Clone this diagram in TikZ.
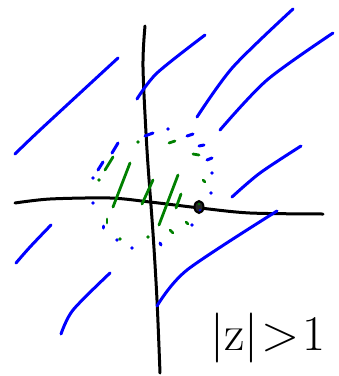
\documentclass[tikz,border=0pt]{standalone}
\usetikzlibrary{shapes.geometric}
\begin{document}
\begin{tikzpicture}[x=1pt,y=-1pt,
  axis/.style={line width=3pt,line cap=round,black},
  bl/.style={line width=3pt,line cap=round,draw=blue},
  gr/.style={line width=2.8pt,line cap=round,draw=green!50!black},
  bdot/.style={circle,fill=blue,inner sep=0pt,minimum size=3.8pt},
  gdot/.style={circle,fill=green!50!black,inner sep=0pt,minimum size=3.8pt}]
\useasboundingbox (0,0) rectangle (339,376);
% axes
\draw[axis] plot[smooth] coordinates {(145,26) (143,67) (147,150) (153,233) (157,300) (160,373)};
\draw[axis] plot[smooth] coordinates {(15,203) (50,199) (110,198) (150,202) (200,208) (250,213) (323,214)};
% blue region lines
\draw[bl] plot[smooth] coordinates {(15,154) (40,130) (118,58)};
\draw[bl] plot[smooth] coordinates {(137,99) (157,73) (205,35)};
\draw[bl] plot[smooth] coordinates {(197,117) (233,67) (293,9)};
\draw[bl] plot[smooth] coordinates {(220,130) (267,80) (333,33)};
\draw[bl] plot[smooth] coordinates {(232,197) (260,173) (301,146)};
\draw[bl] plot[smooth] coordinates {(16,263) (30,247) (51,225)};
\draw[bl] plot[smooth] coordinates {(61,334) (73,310) (110,273)};
\draw[bl] plot[smooth] coordinates {(157,306) (187,270) (277,211)};
% dashed circle: blue parts
\draw[bl] (145,136) -- (153,133);
\draw[bl] (187,136) -- (193,134);
\draw[bl] (199,146) -- (204,145);
\draw[bl] (207,160) -- (212,158);
\draw[bl] (112,153) -- (118,143);
\draw[bl] (98,170) -- (103,162);
\draw[bl] (103,228) -- (103,226);
\draw[bl] (160,243) -- (161,245);
\node[bdot] (b1) at (168,129) {};
\node[bdot] (b2) at (212,173) {};
\node[bdot] (b3) at (211,193) {};
\node[bdot] (b4) at (192,225) {};
\node[bdot] (b5) at (93,178) {};
\node[bdot] (b6) at (93,203) {};
\node[bdot] (b7) at (117,240) {};
\node[bdot] (b8) at (132,248) {};
% dashed circle: green parts
\draw[gr] (169,143) -- (175,141);
\draw[gr] (193,154) -- (199,155);
\draw[gr] (203,180) -- (205,182);
\draw[gr] (186,222) -- (188,224);
\draw[gr] (170,230) -- (173,233);
\draw[gr] (107,219) -- (107,223);
\node[gdot] (g1) at (138,142) {};
\node[gdot] (g2) at (148,237) {};
\node[gdot] (g3) at (120,239) {};
\node[gdot] (g4) at (99,180) {};
% green hatching
\draw[gr] (113,207) -- (130,163);
\draw[gr] (142,204) -- (153,180);
\draw[gr] (159,225) -- (178,175);
\draw[gr] (176,208) -- (181,194);
\draw[gr] (105,170) -- (113,157);
% point on axis
\node[ellipse,draw=black,line width=2pt,fill=black!85,inner sep=0pt,minimum width=9pt,minimum height=12pt] (p) at (199,207) {};
\node[gdot,minimum size=2.5pt] (pg) at (199,204) {};
\node[bdot,minimum size=2.5pt] (pb) at (200,210) {};
% label
\node[font=\fontsize{50}{50}\selectfont,inner sep=0pt] (lab) at (268,338) {|z|\kern3pt>\kern3pt1};
\end{tikzpicture}
\end{document}
